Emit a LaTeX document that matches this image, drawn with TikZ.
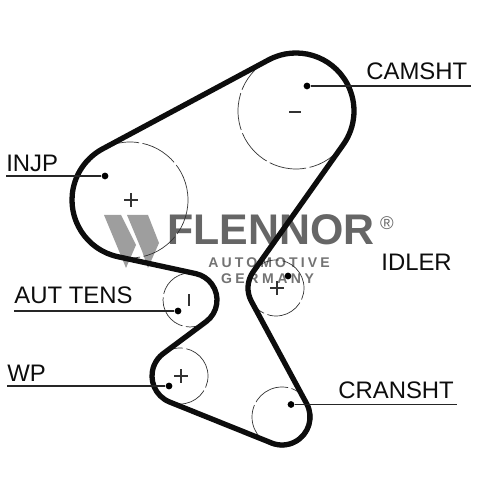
\documentclass[tikz,border=0pt]{standalone}
\usepackage{fontspec}
\setmainfont{Liberation Sans}
\usetikzlibrary{calc}
\definecolor{logogray}{gray}{0.40}
\definecolor{markgray}{gray}{0.62}
\tikzset{
  belt/.style={line width=0.106cm,line join=round,draw=black!95},
  pulley/.style={draw=black!80,line width=0.014cm,dash pattern=on 0.75cm off 0.07cm},
  leader/.style={draw=black!85,line width=0.024cm},
  tick/.style={draw=black!80,line width=0.022cm},
  pin/.style={circle,fill=black,inner sep=0pt,minimum size=0.135cm},
  lbl/.style={anchor=base west,inner sep=0pt,font=\fontsize{13.6}{16}\selectfont,text=black!95},
}
\begin{document}
\begin{tikzpicture}[x=0.02cm,y=0.02cm]
\useasboundingbox (0,0) rectangle (500,500);
% pulley centres
\coordinate (cam) at (296,389);
\coordinate (inj) at (130,300);
\coordinate (aut) at (190,200);
\coordinate (wp) at (180,124);
\coordinate (idl) at (276,212);
\coordinate (crk) at (282,83);
% logo mark
\fill[markgray] (104,285) -- (121,285) -- (136,255) -- (126,232) -- (119,249) -- cycle;
\fill[markgray] (127,285) -- (148,285) -- (159,257) -- (148,232) -- (142,249) -- cycle;
\node[anchor=base west,inner sep=0pt,font=\fontsize{24.4}{28}\selectfont\bfseries,text=logogray] (brand) at (167,255) {FLENNOR};
\node[anchor=center,inner sep=0pt,font=\fontsize{10.5}{12}\selectfont,text=logogray] (reg) at (387,277) {®};
\node[anchor=base,inner sep=0pt,font=\fontsize{8}{10}\selectfont\bfseries\addfontfeatures{LetterSpace=22},text=black!55] (auto) at (269,232) {AUTOMOTIVE};
\node[anchor=base,inner sep=0pt,font=\fontsize{8}{10}\selectfont\bfseries\addfontfeatures{LetterSpace=25},text=black!55] (germ) at (267.5,216) {GERMANY};
% pulleys
\draw[pulley] (cam) circle[radius=58];
\draw[pulley] (inj) circle[radius=58];
\draw[pulley] (aut) circle[radius=27];
\draw[pulley] (wp) circle[radius=28];
\draw[pulley] (idl) circle[radius=28];
\draw[pulley] (crk) circle[radius=30];
% centre marks
\draw[tick] (124,300) -- (138,300) (131,293) -- (131,307);
\draw[tick] (174,124) -- (188,124) (181,117) -- (181,131);
\draw[tick] (270,212) -- (284,212) (277,205) -- (277,219);
\draw[tick] (189,194) -- (189,206);
\draw[tick] (289,388) -- (301,388);
% belt
\draw[belt] ($(cam)+(118.2:58)$)
  arc[start angle=118.2,end angle=-35.33,radius=58]
  -- ($(idl)+(144.67:28)$)
  arc[start angle=144.67,end angle=208.37,radius=28]
  -- ($(crk)+(28.37:28)$)
  arc[start angle=28.37,end angle=-111.9,radius=28]
  -- ($(wp)+(248.1:28)$)
  arc[start angle=248.1,end angle=126.65,radius=28]
  -- ($(aut)+(-53.35:27)$)
  arc[start angle=-53.35,end angle=77.76,radius=27]
  -- ($(inj)+(257.76:58)$)
  arc[start angle=257.76,end angle=118.2,radius=58]
  -- cycle;
% pins
\node[pin] (pcam) at (307,414) {};
\node[pin] (pinj) at (105,324) {};
\node[pin] (paut) at (178,189) {};
\node[pin] (pwp) at (169,114) {};
\node[pin] (pidl) at (288,224) {};
\node[pin] (pcrk) at (291,95.5) {};
% labels
\node[lbl] (lcam) at (366,420) {CAMSHT};
\node[lbl] (linj) at (6,328) {INJP};
\node[lbl] (laut) at (14,196) {AUT TENS};
\node[lbl] (lwp) at (7,118) {WP};
\node[lbl] (lcrk) at (338,101) {CRANSHT};
\node[lbl] (lidl) at (381,229) {IDLER};
% leaders
\coordinate (ecam) at (471,414);
\coordinate (einj) at (6,324);
\coordinate (eaut) at (14,189);
\coordinate (ewp) at (7,114);
\coordinate (ecrk) at (457,95.5);
\draw[leader] (pcam) -- (ecam);
\draw[leader] (pinj) -- (einj);
\draw[leader] (paut) -- (eaut);
\draw[leader] (pwp) -- (ewp);
\draw[leader] (pcrk) -- (ecrk);
\end{tikzpicture}
\end{document}
